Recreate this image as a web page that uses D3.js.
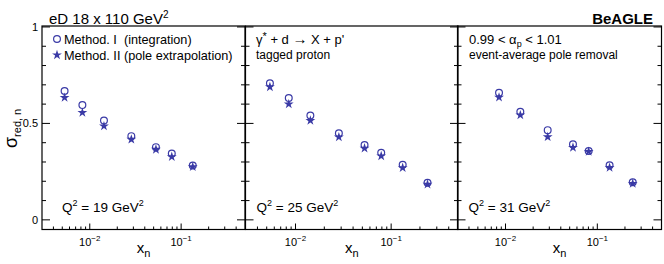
<!DOCTYPE html>
<html>
<head>
<meta charset="utf-8">
<script src="https://cdn.jsdelivr.net/npm/d3@7"></script>
<style>
body { margin: 0; background: #fff; }
svg text { font-family: "Liberation Sans", Arial, sans-serif; fill: #000; }
</style>
</head>
<body>
<div id="chart"></div>
<script>
// values
const q2Values = [19, 25, 31];

const xn19 = [0.0053, 0.0083, 0.0143, 0.0285, 0.053, 0.079, 0.134];
const methodI19 = [0.668, 0.595, 0.515, 0.434, 0.377, 0.344, 0.282];
const methodII19 = [0.634, 0.556, 0.486, 0.417, 0.365, 0.327, 0.275];

const xn25 = [0.0054, 0.0085, 0.0143, 0.0284, 0.0527, 0.0787, 0.132, 0.240];
const methodI25 = [0.708, 0.632, 0.541, 0.449, 0.388, 0.348, 0.286, 0.192];
const methodII25 = [0.689, 0.600, 0.515, 0.429, 0.371, 0.331, 0.270, 0.184];

const xn31 = [0.0085, 0.0145, 0.0288, 0.0543, 0.0805, 0.136, 0.243];
const methodI31 = [0.659, 0.560, 0.465, 0.392, 0.357, 0.283, 0.195];
const methodII31 = [0.635, 0.543, 0.430, 0.375, 0.354, 0.271, 0.188];

const xDomain = [0.003, 0.5];
const yDomain = [-0.05, 1.005];
const xMajor = [0.01, 0.1];
const xMajorExp = ["\u22122", "\u22121"];
const yMajor = [0, 0.5, 1];
const yLabels = ["0", "0.5", "1"];

const width = 664, height = 264;
const frameTop = 26, frameBottom = 229.5;
const color = "#3a3aa6";

const panels = [
  {x0: 42, x1: 245, xn: xn19, m1: methodI19, m2: methodII19, q2: q2Values[0]},
  {x0: 245.5, x1: 458, xn: xn25, m1: methodI25, m2: methodII25, q2: q2Values[1]},
  {x0: 457.5, x1: 661.5, xn: xn31, m1: methodI31, m2: methodII31, q2: q2Values[2]}
];

const svg = d3.select("#chart").append("svg")
    .attr("width", width)
    .attr("height", height);

const y = d3.scaleLinear().domain(yDomain).range([frameBottom, frameTop]);

// minor ticks
const xMinor = [];
[0.001, 0.01, 0.1].forEach(d => {
  for (let k = 2; k <= 9; k++) {
    const v = k * d;
    if (v > xDomain[0] && v < xDomain[1]) xMinor.push(v);
  }
});
const yMinor = d3.range(0, 11).map(i => i / 10).filter(v => !yMajor.includes(v));

const star = d3.symbol().type(d3.symbolStar).size(30);

panels.forEach((p, i) => {
  const x = d3.scaleLog().domain(xDomain).range([p.x0, p.x1]);
  const g = svg.append("g");

  // y ticks on both sides
  g.selectAll(".ymaj").data(yMajor).join("path")
      .attr("d", v => `M${p.x0},${y(v)}h8M${p.x1},${y(v)}h-8`)
      .attr("stroke", "#000").attr("stroke-width", 1);
  g.selectAll(".ymin").data(yMinor).join("path")
      .attr("d", v => `M${p.x0},${y(v)}h4M${p.x1},${y(v)}h-4`)
      .attr("stroke", "#000").attr("stroke-width", 1);

  // x ticks (bottom only)
  g.selectAll(".xmaj").data(xMajor).join("path")
      .attr("d", v => `M${x(v)},${frameBottom}v-6`)
      .attr("stroke", "#000").attr("stroke-width", 1);
  g.selectAll(".xmin").data(xMinor).join("path")
      .attr("d", v => `M${x(v)},${frameBottom}v-3`)
      .attr("stroke", "#000").attr("stroke-width", 1);

  // x tick labels 10^n
  xMajor.forEach((v, j) => {
    const t = g.append("text")
        .attr("x", x(v))
        .attr("y", 246)
        .attr("text-anchor", "middle")
        .style("font-size", "11px");
    t.append("tspan").text("10");
    t.append("tspan").attr("dy", -5).style("font-size", "8px").text(xMajorExp[j]);
  });

  // y tick labels only on first panel
  if (i === 0) {
    g.selectAll(".ylab").data(yMajor).join("text")
        .attr("x", 38)
        .attr("y", v => y(v) + 4)
        .attr("text-anchor", "end")
        .style("font-size", "11px")
        .text((v, k) => yLabels[k]);
  }

  // frame
  g.append("rect")
      .attr("x", p.x0).attr("y", frameTop)
      .attr("width", p.x1 - p.x0).attr("height", frameBottom - frameTop)
      .attr("fill", "none").attr("stroke", "#000").attr("stroke-width", 1.2);

  // x title
  const xt = g.append("text")
      .attr("x", (p.x0 + p.x1) / 2)
      .attr("y", 253)
      .attr("text-anchor", "middle")
      .style("font-size", "15px");
  xt.append("tspan").text("x");
  xt.append("tspan").attr("dy", 4).style("font-size", "11px").text("n");

  // Q2 label
  const ql = g.append("text")
      .attr("x", p.x0 + (i === 0 ? 20 : 11))
      .attr("y", 211.5)
      .style("font-size", "13.5px");
  ql.append("tspan").text("Q");
  ql.append("tspan").attr("dy", -6).style("font-size", "9px").text("2");
  ql.append("tspan").attr("dy", 6).text(" = " + p.q2 + " GeV");
  ql.append("tspan").attr("dy", -6).style("font-size", "9px").text("2");

  // data: method I open circles, method II filled stars
  g.selectAll(".m1").data(p.m1).join("circle")
      .attr("cx", (d, k) => x(p.xn[k]))
      .attr("cy", d => y(d))
      .attr("r", 3.4)
      .attr("fill", "none")
      .attr("stroke", color)
      .attr("stroke-width", 1.2);
  g.selectAll(".m2").data(p.m2).join("path")
      .attr("d", star)
      .attr("transform", (d, k) => `translate(${x(p.xn[k])},${y(d)})`)
      .attr("fill", color);
});

// header texts
const hd = svg.append("text").attr("x", 49).attr("y", 24).style("font-size", "15px");
hd.append("tspan").text("eD 18 x 110 GeV");
hd.append("tspan").attr("dy", -6).style("font-size", "10px").text("2");

svg.append("text")
    .attr("x", 653).attr("y", 24)
    .attr("text-anchor", "end")
    .style("font-size", "15px")
    .style("font-weight", "bold")
    .text("BeAGLE");

// legend
svg.append("circle").attr("cx", 57).attr("cy", 39).attr("r", 3.4)
    .attr("fill", "none").attr("stroke", color).attr("stroke-width", 1.2);
svg.append("path").attr("d", star).attr("transform", "translate(57,55)").attr("fill", color);
svg.append("text").attr("x", 64).attr("y", 43.5).style("font-size", "12.7px")
    .style("white-space", "pre").text("Method. I  (integration)");
svg.append("text").attr("x", 64).attr("y", 59.5).style("font-size", "12.7px")
    .text("Method. II (pole extrapolation)");

// panel 2 notes
const r1 = svg.append("text").attr("x", 256).attr("y", 43.5).style("font-size", "13px");
r1.append("tspan").text("\u03b3");
r1.append("tspan").attr("dy", -4).style("font-size", "11px").text("*");
r1.append("tspan").attr("dy", 4).text(" + d ");
r1.append("tspan").style("font-size", "15px").text("\u2192");
r1.append("tspan").text(" X + p'");
svg.append("text").attr("x", 256).attr("y", 59).style("font-size", "12px").text("tagged proton");

// panel 3 notes
const a1 = svg.append("text").attr("x", 469).attr("y", 43.5).style("font-size", "13px");
a1.append("tspan").text("0.99 < \u03b1");
a1.append("tspan").attr("dy", 3).style("font-size", "9px").text("p");
a1.append("tspan").attr("dy", -3).text(" < 1.01");
svg.append("text").attr("x", 469).attr("y", 58.5).style("font-size", "12px").text("event-average pole removal");

// y title
const yt = svg.append("text")
    .attr("transform", "translate(16.5,148) rotate(-90)")
    .style("font-size", "18px");
yt.append("tspan").text("\u03c3");
yt.append("tspan").attr("dy", 4).style("font-size", "11px").text("red, n");
</script>
</body>
</html>
